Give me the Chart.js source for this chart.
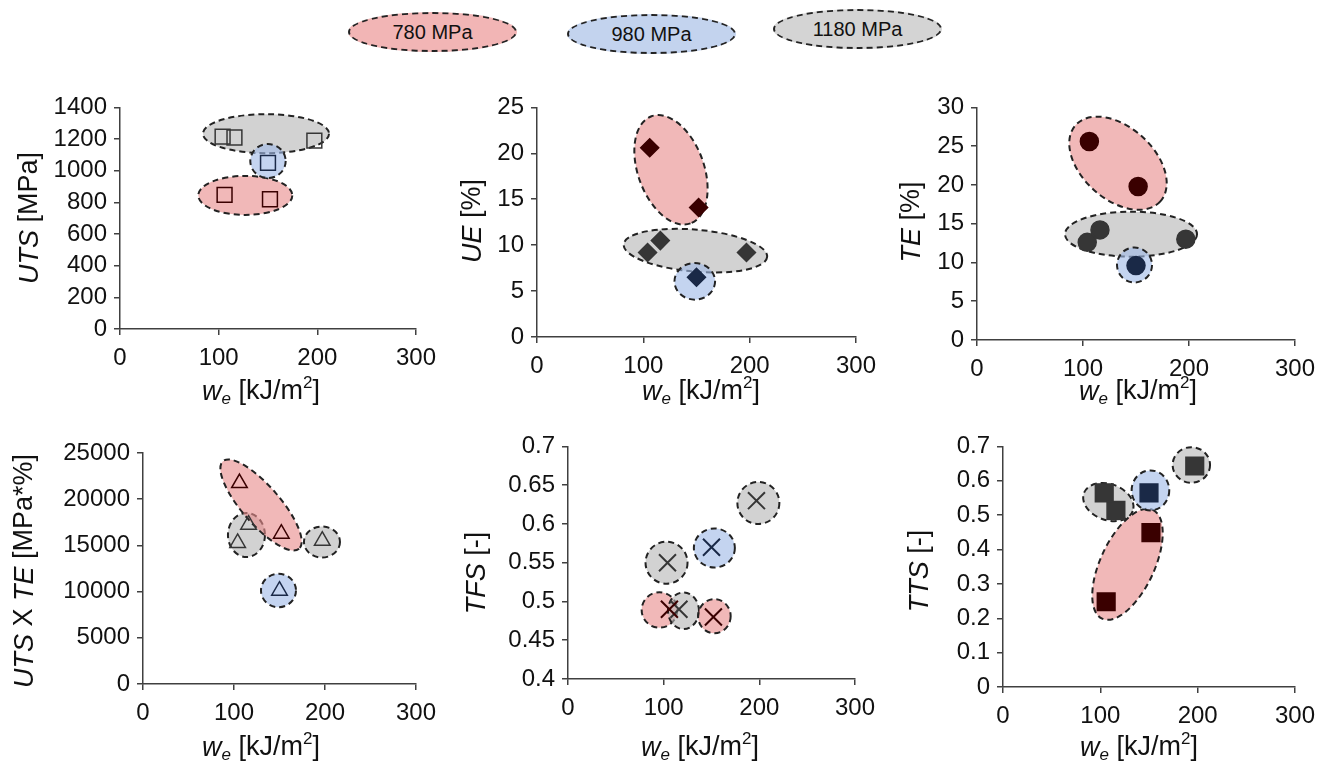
<!DOCTYPE html>
<html>
<head>
<meta charset="utf-8">
<script src="https://cdn.jsdelivr.net/npm/chart.js@4.4.1/dist/chart.umd.min.js"></script>
<style>
    body { margin: 0; background: #fff; width: 1330px; height: 763px; overflow: hidden; position: relative;
           font-family: Arial, "Liberation Sans", sans-serif; }
    .panel { position: absolute; }
    .leg { position: absolute; box-sizing: border-box; border: 2px dashed #222; border-radius: 50%;
           display: flex; align-items: center; justify-content: center;
           font-family: "Liberation Sans", Arial, sans-serif; font-size: 20px; color: #111; }
</style>
</head>
<body>
<div class="leg" style="left:348px;top:12px;width:169px;height:40px;background:#f2b5b5">780 MPa</div>
<div class="leg" style="left:567px;top:14px;width:169px;height:40px;background:#c3d3ee">980 MPa</div>
<div class="leg" style="left:773px;top:9px;width:169px;height:40px;background:#d4d4d4">1180 MPa</div>

<script>
/* ── Données ───────────────────────────────────────────────── */

const groups = ["780 MPa", "980 MPa", "1180 MPa"];

// w_e [kJ/m2] par groupe
const we780  = [106, 152];
const we980  = [150];
const we1180 = [104, 116, 197];

const uts780  = [847, 820];
const uts980  = [1050];
const uts1180 = [1215, 1210, 1190];

const ue780  = [20.6, 14.1];
const ue980  = [6.5];
const ue1180 = [9.2, 10.5, 9.2];

const te780  = [25.6, 19.8];
const te980  = [9.6];
const te1180 = [12.6, 14.2, 13.0];

const ute780  = [21750, 16270];
const ute980  = [10100];
const ute1180 = [15260, 17240, 15510];

const tfs780  = [0.49, 0.48];
const tfs980  = [0.57];
const tfs1180 = [0.55, 0.49, 0.63];

const tts780  = [0.248, 0.449];
const tts980  = [0.565];
const tts1180 = [0.565, 0.514, 0.643];

const xTicks   = [0, 100, 200, 300];
const utsTicks = [0, 200, 400, 600, 800, 1000, 1200, 1400];
const ueTicks  = [0, 5, 10, 15, 20, 25];
const teTicks  = [0, 5, 10, 15, 20, 25, 30];
const uteTicks = [0, 5000, 10000, 15000, 20000, 25000];
const tfsTicks = [0.4, 0.45, 0.5, 0.55, 0.6, 0.65, 0.7];
const ttsTicks = [0, 0.1, 0.2, 0.3, 0.4, 0.5, 0.6, 0.7];

const weGroups = [we780, we980, we1180];

/* ── Styles ────────────────────────────────────────────────── */

const FONT = 'Arial, "Liberation Sans", sans-serif';
const AXIS = "#404040";
const GROUP_FILL = ["rgba(232,140,140,0.62)", "rgba(160,186,230,0.62)", "rgba(180,180,180,0.6)"];
const GROUP_MARK = ["#3a0000", "#1a2947", "#363636"];

// regroupements (centre en unités des axes, rayons en px, rotation en degrés)
const panels = [
    { box: [0, 86, 445, 329], yW: 120, xH: 86, padTop: 20, padRight: 28,
      yTicks: utsTicks, series: [uts780, uts980, uts1180],
      pointStyle: "rect", radius: 10.5, hollow: true,
      yTitle: [["UTS", true], [" [MPa]", false]], yTitlePos: [30, 218], xTitlePos: [261, 392],
      ellipses: [
          { g: 2, cx: 148, cy: 1234, rx: 63, ry: 19.5, rot: 0 },
          { g: 0, cx: 127, cy: 844, rx: 47, ry: 19.5, rot: 0 },
          { g: 1, cx: 150, cy: 1061, rx: 17.7, ry: 17, rot: 0 },
      ] },
    { box: [450, 86, 435, 329], yW: 87, xH: 78, padTop: 20, padRight: 28,
      yTicks: ueTicks, series: [ue780, ue980, ue1180],
      pointStyle: "rectRot", radius: 9, hollow: false,
      yTitle: [["UE", true], [" [%]", false]], yTitlePos: [473, 221], xTitlePos: [701, 392],
      ellipses: [
          { g: 0, cx: 126, cy: 18.2, rx: 57, ry: 33, rot: 70 },
          { g: 2, cx: 149, cy: 9.4, rx: 72, ry: 21, rot: 5 },
          { g: 1, cx: 148.4, cy: 6.06, rx: 20.3, ry: 18.3, rot: 0 },
      ] },
    { box: [890, 86, 438, 329], yW: 87, xH: 75, padTop: 20, padRight: 33,
      yTicks: teTicks, series: [te780, te980, te1180],
      pointStyle: "circle", radius: 9, hollow: false,
      yTitle: [["TE", true], [" [%]", false]], yTitlePos: [912, 222], xTitlePos: [1138, 392],
      ellipses: [
          { g: 0, cx: 133, cy: 22.8, rx: 57, ry: 36, rot: 42 },
          { g: 2, cx: 145.3, cy: 13.65, rx: 66, ry: 22.5, rot: 0 },
          { g: 1, cx: 148.6, cy: 9.68, rx: 17.5, ry: 17.5, rot: 0 },
      ] },
    { box: [0, 425, 445, 338], yW: 143, xH: 79, padTop: 28, padRight: 29,
      yTicks: uteTicks, series: [ute780, ute980, ute1180],
      pointStyle: "triangle", radius: 9, hollow: true,
      yTitle: [["UTS", true], [" X ", false], ["TE", true], [" [MPa*%]", false]],
      yTitlePos: [25, 571], xTitlePos: [261, 748],
      ellipses: [
          { g: 2, cx: 113.7, cy: 16126, rx: 18.5, ry: 22, rot: 0 },
          { g: 2, cx: 196.7, cy: 15368, rx: 18, ry: 15.5, rot: 0 },
          { g: 0, cx: 129.7, cy: 19372, rx: 58, ry: 19, rot: 49 },
          { g: 1, cx: 148.9, cy: 10119, rx: 17.5, ry: 16.7, rot: 0 },
      ] },
    { box: [450, 425, 435, 338], yW: 118, xH: 84, padTop: 21, padRight: 30,
      yTicks: tfsTicks, series: [tfs780, tfs980, tfs1180],
      pointStyle: "crossRot", radius: 12, hollow: true,
      yTitle: [["TFS", true], [" [-]", false]], yTitlePos: [477, 573], xTitlePos: [700, 748],
      ellipses: [
          { g: 2, cx: 199, cy: 0.627, rx: 21, ry: 21, rot: 0 },
          { g: 1, cx: 153, cy: 0.569, rx: 20.5, ry: 19.5, rot: 0 },
          { g: 2, cx: 103, cy: 0.55, rx: 21, ry: 21, rot: 0 },
          { g: 0, cx: 95.6, cy: 0.489, rx: 17.8, ry: 17.7, rot: 0 },
          { g: 2, cx: 120.7, cy: 0.488, rx: 15.5, ry: 18.3, rot: 0 },
          { g: 0, cx: 153, cy: 0.481, rx: 16.3, ry: 17, rot: 0 },
      ] },
    { box: [890, 425, 438, 338], yW: 113, xH: 76, padTop: 21, padRight: 33,
      yTicks: ttsTicks, series: [tts780, tts980, tts1180],
      pointStyle: "rect", radius: 12.5, hollow: false,
      yTitle: [["TTS", true], [" [-]", false]], yTitlePos: [920, 571], xTitlePos: [1139, 748],
      ellipses: [
          { g: 2, cx: 193.5, cy: 0.646, rx: 18.7, ry: 17.8, rot: 0 },
          { g: 2, cx: 108.2, cy: 0.538, rx: 26, ry: 18, rot: 20 },
          { g: 0, cx: 127.9, cy: 0.357, rx: 60, ry: 27, rot: -65 },
          { g: 1, cx: 151.5, cy: 0.572, rx: 18.8, ry: 20, rot: 0 },
      ] },
];

const xTitle = [["w", true], ["e", true, 0.62, 7], [" [kJ/m", false], ["2", false, 0.62, -9], ["]", false]];

/* ── Dessin ────────────────────────────────────────────────── */

function drawRuns(ctx, runs, cx, cy, rotate) {
    const size = 27;
    ctx.save();
    ctx.translate(cx, cy);
    if (rotate) ctx.rotate(-Math.PI / 2);
    ctx.textBaseline = "middle";
    ctx.textAlign = "left";
    ctx.fillStyle = "#111";
    const fontOf = (r) => `${r[1] ? "italic " : ""}${Math.round(size * (r[2] || 1))}px ${FONT}`;
    let total = 0;
    const widths = runs.map((r) => { ctx.font = fontOf(r); const w = ctx.measureText(r[0]).width; total += w; return w; });
    let x = -total / 2;
    runs.forEach((r, i) => {
        ctx.font = fontOf(r);
        ctx.fillText(r[0], x, r[3] || 0);
        x += widths[i];
    });
    ctx.restore();
}

function axisOptions(ticks, pos, fitSize) {
    return {
        type: "linear",
        position: pos,
        min: ticks[0],
        max: ticks[ticks.length - 1],
        afterBuildTicks: (s) => { s.ticks = ticks.map((v) => ({ value: v })); },
        afterFit: (s) => { if (pos === "left") s.width = fitSize; else s.height = fitSize; },
        ticks: {
            font: { family: FONT, size: 24 },
            color: "#111",
            padding: pos === "left" ? 7 : 9,
            autoSkip: false,
            maxRotation: 0,
            callback: (v) => String(v),
        },
        grid: { drawOnChartArea: false, drawTicks: true, tickLength: 6, color: AXIS, lineWidth: 1.5 },
        border: { display: true, color: AXIS, width: 1.5 },
    };
}

panels.forEach((p) => {
    const [left, top, width, height] = p.box;
    const div = document.createElement("div");
    div.className = "panel";
    div.style.left = `${left}px`;
    div.style.top = `${top}px`;
    const canvas = document.createElement("canvas");
    canvas.width = width;
    canvas.height = height;
    canvas.style.width = `${width}px`;
    canvas.style.height = `${height}px`;
    div.appendChild(canvas);
    document.body.appendChild(div);

    const datasets = groups.map((label, g) => ({
        label,
        data: weGroups[g].map((x, i) => ({ x, y: p.series[g][i] })),
        pointStyle: p.pointStyle,
        pointRadius: p.radius,
        pointHoverRadius: p.radius,
        pointBorderWidth: p.pointStyle === "crossRot" ? 2 : 1.5,
        pointBorderColor: GROUP_MARK[g],
        pointBackgroundColor: p.hollow ? "rgba(0,0,0,0)" : GROUP_MARK[g],
        showLine: false,
    }));

    const decor = {
        id: "decor",
        beforeDatasetsDraw(chart) {
            const { ctx, scales: { x, y } } = chart;
            p.ellipses.forEach((e) => {
                ctx.save();
                ctx.beginPath();
                ctx.ellipse(x.getPixelForValue(e.cx), y.getPixelForValue(e.cy), e.rx, e.ry,
                            e.rot * Math.PI / 180, 0, Math.PI * 2);
                ctx.fillStyle = GROUP_FILL[e.g];
                ctx.fill();
                ctx.setLineDash([6, 4]);
                ctx.lineWidth = 2;
                ctx.strokeStyle = "#222";
                ctx.stroke();
                ctx.restore();
            });
        },
        afterDraw(chart) {
            const ctx = chart.ctx;
            drawRuns(ctx, p.yTitle, p.yTitlePos[0] - left, p.yTitlePos[1] - top, true);
            drawRuns(ctx, xTitle, p.xTitlePos[0] - left, p.xTitlePos[1] - top, false);
        },
    };

    new Chart(canvas, {
        type: "scatter",
        data: { datasets },
        options: {
            responsive: false,
            animation: false,
            devicePixelRatio: 1,
            layout: { padding: { top: p.padTop, right: p.padRight, left: 0, bottom: 0 } },
            plugins: { legend: { display: false }, tooltip: { enabled: false } },
            scales: {
                x: axisOptions(xTicks, "bottom", p.xH),
                y: axisOptions(p.yTicks, "left", p.yW),
            },
        },
        plugins: [decor],
    });
});
</script>
</body>
</html>
